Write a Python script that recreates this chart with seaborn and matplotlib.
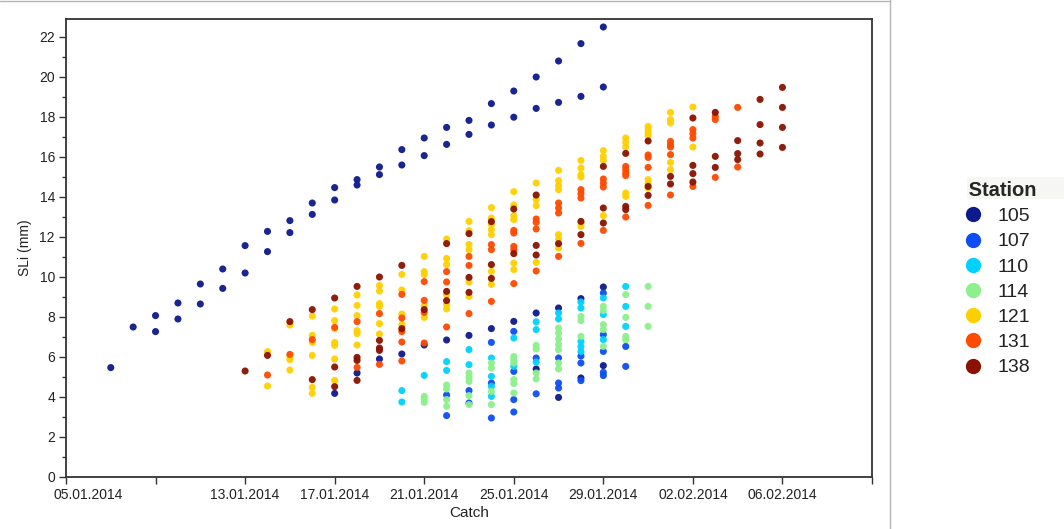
import numpy as np
import pandas as pd
import matplotlib
matplotlib.use("Agg")
import matplotlib.pyplot as plt
from matplotlib.ticker import MultipleLocator
from matplotlib.lines import Line2D
from matplotlib.patches import Rectangle
import seaborn as sns

# ---------------- data ----------------
stations = ["105", "107", "110", "114", "121", "131", "138"]
station_colors = ["#0c1a8c", "#0b4ef5", "#00d2ff", "#8cf08c", "#ffd000", "#ff4a00", "#8a1200"]

catch_105 = ["07.01", "08.01", "09.01", "10.01", "11.01", "12.01", "13.01", "14.01", "15.01",
             "16.01", "17.01", "18.01", "19.01", "20.01", "21.01", "22.01", "23.01", "24.01",
             "25.01", "26.01", "27.01", "28.01", "29.01"]
sli_105 = [[5.47], [7.5], [8.07, 7.27], [8.7, 7.9], [9.65, 8.65], [10.4, 9.43], [11.57, 10.2],
           [12.28, 11.27], [12.82, 12.22], [13.7, 13.13], [14.47, 13.85, 4.18],
           [14.87, 14.6, 5.2], [15.5, 15.12, 5.9], [16.37, 15.6, 6.15], [16.95, 16.07, 6.6],
           [17.48, 16.63, 6.85], [17.83, 17.13, 7.08], [18.67, 17.6, 7.42], [19.3, 17.99, 7.78],
           [20.0, 18.43, 8.2, 5.4], [20.8, 18.73, 8.45, 3.98], [21.67, 19.03, 8.92, 4.95],
           [22.5, 19.5, 9.5, 5.57]]

catch_107 = ["22.01", "23.01", "24.01", "25.01", "26.01", "27.01", "28.01", "29.01", "30.01"]
sli_107 = [[4.1, 3.07], [4.32, 3.7], [6.73, 4.7, 2.95], [7.28, 5.28, 3.87, 3.25], [5.95, 4.16],
           [5.95, 4.7, 4.45], [6.05, 5.7, 4.82], [9.2, 7.12, 6.28, 5.23, 5.07], [6.53, 5.53]]

catch_110 = ["20.01", "21.01", "22.01", "23.01", "24.01", "25.01", "26.01", "27.01", "28.01",
             "29.01", "30.01"]
sli_110 = [[4.32, 3.75], [5.08], [5.77, 5.33], [6.37, 5.62], [5.95, 5.03, 4.53, 4.03],
           [6.95, 5.53], [7.76, 7.37, 5.75], [8.2, 7.9], [8.75, 8.45, 6.78, 6.52, 6.27],
           [8.95, 8.12, 6.87], [9.53, 8.53, 7.53]]

catch_114 = ["21.01", "22.01", "23.01", "24.01", "25.01", "26.01", "27.01", "28.01", "29.01",
             "30.01", "31.01"]
sli_114 = [[4.03, 3.9, 3.73], [4.6, 4.4, 3.87, 3.53], [5.2, 4.98, 4.78, 4.07, 3.62],
           [5.7, 5.45, 4.28, 3.62], [6.03, 5.87, 5.7, 4.87, 4.67, 4.2], [6.58, 6.4, 5.2, 4.9],
           [7.45, 7.2, 6.9, 6.62, 6.37, 5.7, 5.4], [8.03, 7.82, 7.03],
           [8.53, 8.32, 7.62, 7.37, 6.53], [9.12, 7.98, 7.03, 6.87], [9.53, 8.53, 7.53]]

catch_121 = ["14.01", "15.01", "16.01", "17.01", "18.01", "19.01", "20.01", "21.01", "22.01",
             "23.01", "24.01", "25.01", "26.01", "27.01", "28.01", "29.01", "30.01", "31.01",
             "01.02", "02.02"]
sli_121 = [[6.27, 4.55], [7.6, 6.03, 5.87, 5.35], [8.05, 7.08, 6.73, 6.08, 4.48, 4.18],
           [8.4, 7.82, 7.43, 6.73, 6.58, 5.9, 4.83], [9.1, 8.58, 8.07, 7.32, 7.17, 6.6],
           [9.57, 9.3, 8.67, 8.53, 7.67, 7.15], [10.13, 9.35, 8.15, 7.62],
           [11.03, 10.27, 10.13, 8.57, 7.98], [11.9, 10.93, 10.62, 9.12, 8.62, 8.4],
           [12.78, 12.32, 11.63, 11.37, 9.75, 9.03],
           [13.47, 12.95, 12.62, 12.37, 12.12, 10.28, 9.63],
           [14.27, 13.6, 13.07, 12.87, 10.7, 10.37], [14.7, 13.87, 13.57, 10.73],
           [15.33, 14.82, 14.57, 14.37, 12.12, 11.9, 11.45], [15.83, 15.45, 15.12, 15.0, 12.7, 12.53],
           [16.32, 16.03, 15.83, 13.07], [16.95, 16.73, 16.5, 14.2, 14.03],
           [17.53, 17.37, 17.2, 17.07, 14.87, 14.67, 14.45], [18.23, 17.87, 17.7, 15.73, 15.37],
           [18.5, 16.5]]

catch_131 = ["14.01", "15.01", "16.01", "17.01", "18.01", "19.01", "20.01", "21.01", "22.01",
             "23.01", "24.01", "25.01", "26.01", "27.01", "28.01", "29.01", "30.01", "31.01",
             "01.02", "02.02", "03.02", "04.02"]
sli_131 = [[5.1], [6.13], [6.87], [7.48], [7.77, 5.48], [8.17, 5.63], [9.13, 7.95, 7.27, 6.75, 5.8],
           [9.77, 8.83, 8.23, 6.7], [10.27, 9.75, 7.5], [11.03, 10.58, 8.17], [11.62, 11.37, 8.78],
           [12.33, 12.2, 11.53, 11.37, 9.67], [12.9, 12.73, 12.4, 10.3], [13.7, 13.45, 13.2, 11.03],
           [14.37, 14.17, 13.95, 11.68], [14.9, 14.7, 14.5, 12.33], [15.53, 15.37, 15.2, 15.07, 13.0],
           [16.1, 15.98, 15.48, 13.58], [16.78, 16.62, 16.5, 16.12, 14.1], [17.37, 17.17, 16.95, 14.53],
           [18.03, 17.87, 14.98], [18.48, 15.5]]

catch_138 = ["13.01", "14.01", "15.01", "16.01", "17.01", "18.01", "19.01", "20.01", "21.01",
             "22.01", "23.01", "24.01", "25.01", "26.01", "27.01", "28.01", "29.01", "30.01",
             "31.01", "01.02", "02.02", "03.02", "04.02", "05.02", "06.02"]
sli_138 = [[5.3], [6.08], [7.77], [8.37, 4.87], [8.95, 5.5, 4.52], [9.53, 5.98, 5.83, 4.83],
           [10.0, 6.83, 6.45, 6.33], [10.58, 7.42], [8.37], [11.67, 9.28, 8.82], [12.17, 9.98, 9.23],
           [12.77, 10.62, 9.93], [13.4, 11.17], [14.1, 11.58, 11.1], [11.67], [12.78, 12.12],
           [15.53, 13.45, 12.7], [16.18, 13.53, 13.37], [16.8, 14.53, 14.08], [15.03, 14.65],
           [17.95, 15.58, 15.17, 14.75], [18.23, 16.03, 15.48], [16.82, 16.17, 15.87],
           [18.88, 17.62, 16.7, 16.15], [19.48, 18.48, 17.48, 16.48]]

x_ticks = ["05.01.2014", "09.01.2014", "13.01.2014", "17.01.2014", "21.01.2014",
           "25.01.2014", "29.01.2014", "02.02.2014", "06.02.2014", "10.02.2014"]
x_tick_labels = ["05.01.2014", "", "13.01.2014", "17.01.2014", "21.01.2014",
                 "25.01.2014", "29.01.2014", "02.02.2014", "06.02.2014", ""]
y_ticks = [0, 2, 4, 6, 8, 10, 12, 14, 16, 18, 20, 22]

# ---------------- table ----------------
series = {"105": (catch_105, sli_105), "107": (catch_107, sli_107), "110": (catch_110, sli_110),
          "114": (catch_114, sli_114), "121": (catch_121, sli_121), "131": (catch_131, sli_131),
          "138": (catch_138, sli_138)}
rows = []
for st in stations:
    days, vals = series[st]
    for d, vs in zip(days, vals):
        for v in vs:
            rows.append({"Catch": pd.to_datetime(d + ".2014", format="%d.%m.%Y"),
                         "SLi": v, "Station": st})
df = pd.DataFrame(rows)

# ---------------- plot ----------------
sns.set_theme(style="white")
plt.rcParams["font.family"] = ["Liberation Sans", "DejaVu Sans"]

W, H, DPI = 1064, 529, 100
fig = plt.figure(figsize=(W / DPI, H / DPI), dpi=DPI)
ax = fig.add_axes([66 / W, 1 - 477 / H, (872 - 66) / W, (477 - 19) / H])

palette = dict(zip(stations, station_colors))
sns.scatterplot(data=df, x="Catch", y="SLi", hue="Station", hue_order=stations,
                palette=palette, s=26, linewidth=0, alpha=0.95, legend=False, ax=ax)

tick_dates = pd.to_datetime(x_ticks, format="%d.%m.%Y")
ax.set_xlim(tick_dates[0], tick_dates[-1])
ax.set_xticks(tick_dates)
# the first label is drawn shifted to the right (as in the reference), so blank it on the tick
shown_labels = [""] + x_tick_labels[1:]
ax.set_xticklabels(shown_labels, fontsize=10, color="#222222")
ax.annotate(x_tick_labels[0], xy=(tick_dates[0], 0), xycoords=("data", "axes fraction"),
            xytext=(15.8, -8.2), textcoords="offset points", ha="center", va="top",
            fontsize=10, color="#222222", annotation_clip=False)

ax.set_ylim(0, 22.9)
ax.set_yticks(y_ticks)
ax.set_yticklabels([str(v) for v in y_ticks], fontsize=10, color="#222222")
ax.yaxis.set_minor_locator(MultipleLocator(1))

ax.tick_params(axis="both", which="major", direction="out", length=5, width=1, color="#333333",
               bottom=True, left=True, pad=3)
ax.tick_params(axis="y", which="minor", direction="out", length=3, width=1, color="#333333", left=True)

for sp in ax.spines.values():
    sp.set_visible(True)
    sp.set_color("#333333")
    sp.set_linewidth(1.3)

ax.set_xlabel("Catch", fontsize=11, color="#222222", labelpad=3)
ax.set_ylabel("SLi (mm)", fontsize=10, color="#222222", labelpad=5)

# outer report frame lines
fig.add_artist(Line2D([0, 890 / W], [1 - 1 / H, 1 - 1 / H], transform=fig.transFigure,
                      color="#b5b5b5", linewidth=1))
fig.add_artist(Line2D([890 / W, 890 / W], [0, 1], transform=fig.transFigure,
                      color="#b5b5b5", linewidth=1))

# light background behind the legend title
fig.add_artist(Rectangle((967 / W, 1 - 199 / H), (W - 967) / W, 22 / H, transform=fig.transFigure,
                         facecolor="#f6f6f2", edgecolor="none", zorder=0))

# legend
handles = [Line2D([0], [0], marker="o", linestyle="", markersize=11, markerfacecolor=palette[s],
                  markeredgewidth=0) for s in stations]
leg = fig.legend(handles, stations, title=" Station", loc="upper left",
                 bbox_to_anchor=(963 / W, 1 - 181 / H), frameon=False, fontsize=14,
                 title_fontproperties={"weight": "bold", "size": 14.5}, handlelength=1.0,
                 handletextpad=0.75, labelspacing=0.39, borderpad=0, borderaxespad=0,
                 alignment="left")
leg.set_zorder(5)
for t in leg.get_texts():
    t.set_color("#222222")

fig.savefig("out.png", dpi=DPI, facecolor="white")
